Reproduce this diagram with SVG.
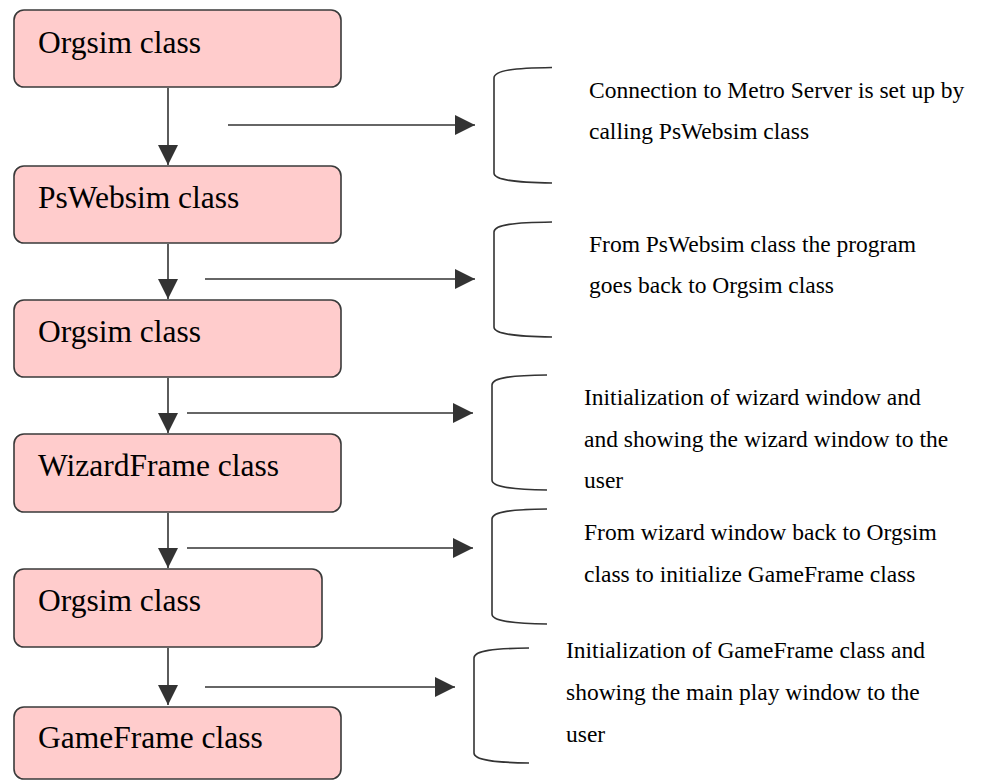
<svg xmlns="http://www.w3.org/2000/svg" width="984" height="780" viewBox="0 0 984 780">
  <style>
    .box { fill: #ffcccc; stroke: #3a3a3a; stroke-width: 1.6; }
    .label, .note { font-family: "Liberation Serif", "Times New Roman", Tinos, "Noto Serif", FreeSerif, "Nimbus Roman", "DejaVu Serif", serif; fill: #000; }
    .label { font-size: 31.5px; }
    .note { font-size: 23.5px; }
    .link { stroke: #333; stroke-width: 1.6; fill: none; marker-end: url(#head); }
    .brace { stroke: #333; stroke-width: 1.6; fill: none; }
  </style>
  <defs>
    <marker id="head" markerUnits="userSpaceOnUse" markerWidth="20" markerHeight="20" refX="20" refY="10" orient="auto">
      <path d="M0,0 L20,10 L0,20 Z" fill="#333"/>
    </marker>
  </defs>
  <rect width="984" height="780" fill="#fff"/>

  <!-- flow arrows (vertical) and pointers to the notes (horizontal) -->
  <g id="connectors">
    <line class="link" x1="168" y1="88" x2="168" y2="165"/>
    <line class="link" x1="168" y1="244" x2="168" y2="299"/>
    <line class="link" x1="168" y1="378" x2="168" y2="433"/>
    <line class="link" x1="168" y1="513" x2="168" y2="568"/>
    <line class="link" x1="168" y1="648" x2="168" y2="705"/>
    <line class="link" x1="228" y1="125" x2="475" y2="125"/>
    <line class="link" x1="205" y1="279" x2="475" y2="279"/>
    <line class="link" x1="187" y1="413" x2="473" y2="413"/>
    <line class="link" x1="187" y1="548" x2="473" y2="548"/>
    <line class="link" x1="205" y1="687" x2="455" y2="687"/>
  </g>

  <g id="orgsim-1">
    <rect class="box" x="14" y="10" width="327" height="77" rx="10"/>
    <text class="label" x="38" y="53">Orgsim class</text>
  </g>
  <g id="pswebsim">
    <rect class="box" x="14" y="166" width="327" height="77" rx="10"/>
    <text class="label" x="38" y="208">PsWebsim class</text>
  </g>
  <g id="orgsim-2">
    <rect class="box" x="14" y="300" width="327" height="77" rx="10"/>
    <text class="label" x="38" y="342">Orgsim class</text>
  </g>
  <g id="wizardframe">
    <rect class="box" x="14" y="434" width="327" height="78" rx="10"/>
    <text class="label" x="38" y="476">WizardFrame class</text>
  </g>
  <g id="orgsim-3">
    <rect class="box" x="14" y="569" width="308" height="78" rx="10"/>
    <text class="label" x="38" y="611">Orgsim class</text>
  </g>
  <g id="gameframe">
    <rect class="box" x="14" y="707" width="327" height="72" rx="10"/>
    <text class="label" x="38" y="748">GameFrame class</text>
  </g>

  <!-- bracketed notes -->
  <g id="note-1">
    <path class="brace" d="M552,67.5 C515,68 494,70 494,78 L494,173 C494,180 515,182.5 552,183"/>
    <text class="note" x="589" y="98">Connection to Metro Server is set up by</text>
    <text class="note" x="589" y="139">calling PsWebsim class</text>
  </g>
  <g id="note-2">
    <path class="brace" d="M552,222 C515,222.5 494,224.5 494,232 L494,327 C494,334 515,336.5 552,337"/>
    <text class="note" x="589" y="252">From PsWebsim class the program</text>
    <text class="note" x="589" y="293">goes back to Orgsim class</text>
  </g>
  <g id="note-3">
    <path class="brace" d="M547,375 C512,375.5 492,377.5 492,385 L492,480 C492,487 512,489.5 547,490"/>
    <text class="note" x="584" y="405">Initialization of wizard window and</text>
    <text class="note" x="584" y="447">and showing the wizard window to the</text>
    <text class="note" x="584" y="488">user</text>
  </g>
  <g id="note-4">
    <path class="brace" d="M547,509 C512,509.5 492,511.5 492,519 L492,614 C492,621 512,623.5 547,624"/>
    <text class="note" x="584" y="540">From wizard window back to Orgsim</text>
    <text class="note" x="584" y="582">class to initialize GameFrame class</text>
  </g>
  <g id="note-5">
    <path class="brace" d="M529,648 C494,648.5 474,650.5 474,658 L474,753 C474,760 494,762.5 529,763"/>
    <text class="note" x="566" y="658">Initialization of GameFrame class and</text>
    <text class="note" x="566" y="700">showing the main play window to the</text>
    <text class="note" x="566" y="742">user</text>
  </g>
</svg>
